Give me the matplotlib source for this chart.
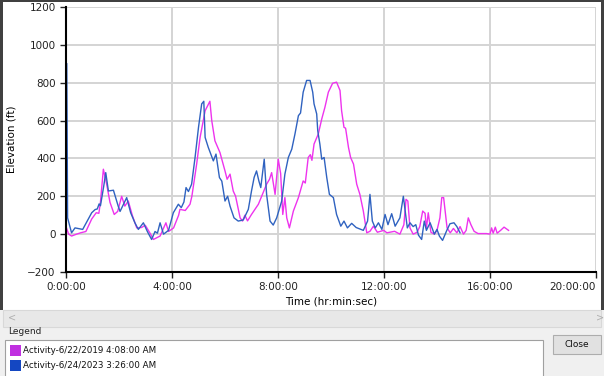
import matplotlib.pyplot as plt
from matplotlib.patches import Rectangle

# elevation profiles, time in hours, elevation in ft
t_2023 = [0.03, 0.06, 0.21, 0.34, 0.63, 0.97, 1.1, 1.18, 1.25, 1.3, 1.42, 1.5, 1.6, 1.79, 1.97,
          2.04, 2.29, 2.44, 2.6, 2.73, 2.92, 3.07, 3.23, 3.36, 3.45, 3.55, 3.68, 3.87, 4.05, 4.24,
          4.35, 4.45, 4.53, 4.62, 4.74, 4.87, 5.0, 5.12, 5.2, 5.25, 5.37, 5.56, 5.66, 5.79, 5.88,
          6.0, 6.1, 6.19, 6.34, 6.5, 6.69, 6.88, 7.0, 7.1, 7.19, 7.28, 7.35, 7.48, 7.57, 7.7,
          7.82, 7.95, 8.14, 8.26, 8.39, 8.52, 8.64, 8.77, 8.85, 8.95, 9.08, 9.21, 9.31, 9.36,
          9.46, 9.5, 9.58, 9.65, 9.74, 9.84, 9.94, 10.09, 10.21, 10.37, 10.49, 10.62, 10.78,
          10.95, 11.22, 11.38, 11.47, 11.56, 11.67, 11.79, 11.92, 12.04, 12.15, 12.29, 12.42,
          12.6, 12.73, 12.88, 12.98, 13.1, 13.2, 13.3, 13.42, 13.52, 13.6, 13.74, 13.9, 14.0,
          14.09, 14.21, 14.37, 14.49, 14.64, 14.75, 14.87]
e_2023 = [900, 86, 7, 33, 25, 113, 130, 133, 160, 150, 250, 325, 228, 232, 148,
          120, 193, 113, 60, 25, 60, 14, -28, 14, 5, 60, 0, 20, 113, 158,
          140, 170, 246, 225, 264, 405, 564, 688, 702, 511, 458, 387, 423, 299, 280,
          175, 200, 148, 86, 69, 75, 131, 228, 300, 334, 280, 246, 396, 210, 69,
          48, 86, 175, 317, 405, 449, 529, 626, 640, 750, 812, 812, 750, 688,
          635, 546, 476, 396, 405, 299, 210, 193, 104, 42, 69, 33, 57,
          35, 20, 69, 210, 69, 33, 60, 25, 104, 50, 108, 42,
          86, 200, 33, 60, 40, 50, -5, -28, 69, 20, 60, 0, 25,
          -10, -33, 20, 55, 60, 40, 7]

t_2019 = [0.0, 0.1, 0.21, 0.4, 0.55, 0.75, 0.97, 1.14, 1.24, 1.3, 1.41, 1.53, 1.66, 1.82, 1.95,
          2.1, 2.22, 2.35, 2.5, 2.67, 2.85, 2.99, 3.15, 3.3, 3.55, 3.77, 3.87, 4.06, 4.25, 4.3,
          4.5, 4.68, 4.75, 4.93, 5.06, 5.25, 5.43, 5.5, 5.62, 5.81, 6.0, 6.08, 6.19, 6.31, 6.4,
          6.57, 6.66, 6.75, 6.85, 7.0, 7.26, 7.57, 7.68, 7.76, 7.89, 8.01, 8.1, 8.18, 8.26, 8.33,
          8.43, 8.58, 8.77, 8.95, 9.03, 9.14, 9.22, 9.28, 9.36, 9.52, 9.65, 9.77, 9.9, 10.06,
          10.21, 10.34, 10.4, 10.49, 10.55, 10.66, 10.74, 10.85, 10.97, 11.09, 11.22, 11.35,
          11.47, 11.6, 11.75, 11.99, 12.11, 12.4, 12.6, 12.75, 12.83, 12.9, 12.98, 13.1, 13.25,
          13.35, 13.46, 13.55, 13.6, 13.67, 13.77, 13.9, 14.0, 14.11, 14.18, 14.25, 14.38, 14.5,
          14.62, 14.75, 14.87, 15.0, 15.1, 15.18, 15.28, 15.4, 15.55, 15.87, 16.0, 16.06, 16.12,
          16.2, 16.27, 16.4, 16.53, 16.7]
e_2019 = [40, 0, -10, 0, 7, 14, 80, 113, 110, 170, 343, 267, 168, 104, 120,
          200, 148, 175, 100, 33, 35, 47, 10, -28, -10, 60, 14, 33, 100, 131,
          125, 158, 200, 370, 511, 652, 702, 600, 493, 431, 334, 290, 317, 228, 200,
          86, 69, 100, 70, 104, 158, 264, 290, 325, 210, 396, 320, 104, 193, 86,
          33, 122, 193, 281, 270, 405, 420, 390, 476, 529, 608, 670, 750, 797,
          803, 759, 652, 564, 560, 458, 405, 370, 264, 210, 122, 7,
          15, 42, 10, 20, 7, 15, 0, 50, 184, 175, 33, 0, 10,
          40, 122, 110, 30, 113, 10, 0, 20, 86, 193, 193, 33, 7,
          30, 7, 40, 0, 20, 86, 50, 15, 3, 3, 0, 33, 5,
          37, 5, 20, 37, 20]

label_2019 = "Activity-6/22/2019 4:08:00 AM"
label_2023 = "Activity-6/24/2023 3:26:00 AM"
x_ticks = [0, 4, 8, 12, 16, 20]
y_ticks = [-200, 0, 200, 400, 600, 800, 1000, 1200]

W, H = 604, 376
fig = plt.figure(figsize=(W / 100, H / 100), dpi=100)
fig.patch.set_facecolor('#f0f0f0')


def box(x0, y0, x1, y1, z=-5, **kw):
    # rectangle in pixel coords, y measured from the top
    fig.patches.append(Rectangle((x0 / W, 1 - y1 / H), (x1 - x0) / W, (y1 - y0) / H,
                                 transform=fig.transFigure, figure=fig, zorder=z, **kw))


# chart panel and window frame
box(3, 2, 601, 310, facecolor='white', edgecolor='none')
box(0, 0, 3, 310, facecolor='#404040', edgecolor='none')
box(601, 0, 604, 310, facecolor='#404040', edgecolor='none')
box(0, 0, 604, 2, facecolor='#404040', edgecolor='none')
# scroll bar
box(3, 310, 601, 327, facecolor='#e8e8e8', edgecolor='#d8d8d8', lw=0.8)
fig.text(8 / W, 1 - 318 / H, '<', fontsize=7, color='#b0b0b0', va='center')
fig.text(596 / W, 1 - 318 / H, '>', fontsize=7, color='#b0b0b0', va='center')

ax = fig.add_axes([66 / W, 1 - 272 / H, 530 / W, 265 / H])
ax.plot(t_2019, e_2019, color='#ee33ee', lw=1.0)
ax.plot(t_2023, e_2023, color='#2f62c0', lw=1.0)
ax.set_xlim(0, 20)
ax.set_ylim(-200, 1200)
ax.set_xticks(x_ticks)
ax.set_xticklabels([f"{h}:00:00" for h in x_ticks])
ax.get_xticklabels()[-1].set_horizontalalignment('right')
ax.set_yticks(y_ticks)
ax.grid(color='#d4d4d4', lw=1.4)
ax.set_axisbelow(True)
for s in ['top', 'right']:
    ax.spines[s].set_visible(False)
for s in ['left', 'bottom']:
    ax.spines[s].set_linewidth(1.5)
ax.tick_params(length=4, width=1, labelsize=7.5, colors='#222222')
ax.set_xlabel("Time (hr:min:sec)", fontsize=7.5, labelpad=3)
ax.set_ylabel("Elevation (ft)", fontsize=7.5, labelpad=8)

# legend panel
fig.text(8 / W, 1 - 332 / H, 'Legend', fontsize=6.5, va='center', color='#222222')
box(5, 340, 543, 378, facecolor='white', edgecolor='#a0a0a0', lw=0.8)
box(10, 345, 21, 356, z=1, facecolor='#c030e0', edgecolor='none')
box(10, 360, 21, 371, z=1, facecolor='#1447c2', edgecolor='none')
fig.text(23 / W, 1 - 350.5 / H, label_2019, fontsize=6.3, va='center', color='#111111')
fig.text(23 / W, 1 - 365.5 / H, label_2023, fontsize=6.3, va='center', color='#111111')
box(553, 335, 601, 354, facecolor='#e1e1e1', edgecolor='#adadad', lw=0.8)
fig.text(577 / W, 1 - 344.5 / H, 'Close', fontsize=6.5, ha='center', va='center', color='#111111')

fig.savefig('out.png', dpi=100, facecolor=fig.get_facecolor())
